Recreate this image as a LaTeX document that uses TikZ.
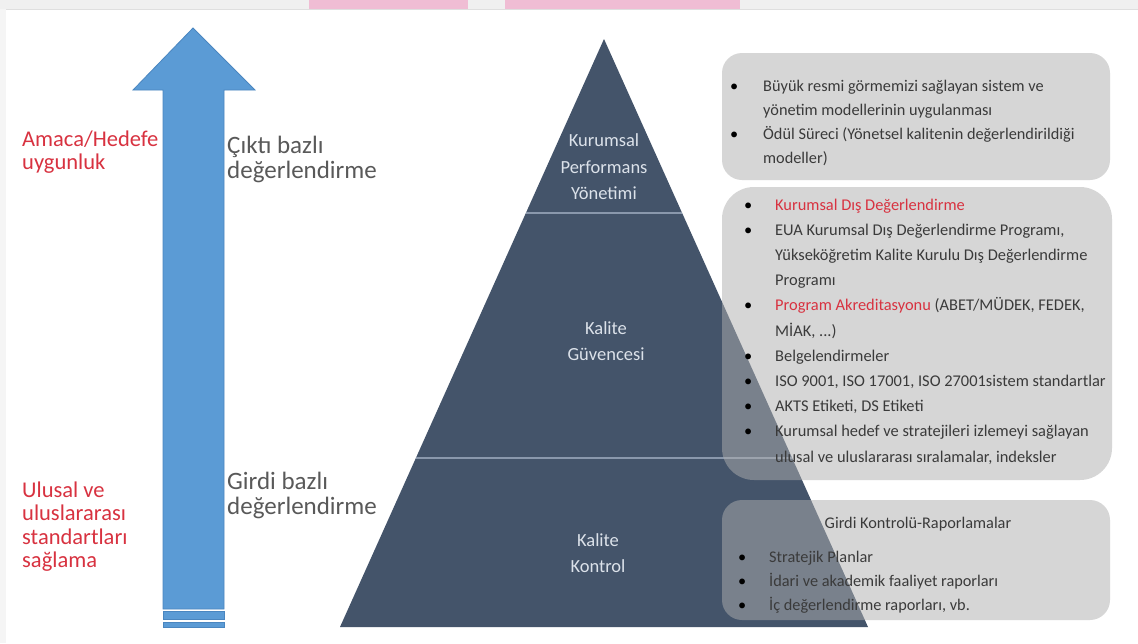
\documentclass[tikz,border=0pt]{standalone}
\usepackage{fontspec}
\setmainfont{Carlito}
\usepackage{array}
\definecolor{pyrcol}{HTML}{44546A}
\definecolor{pyrline}{HTML}{8A98AC}
\definecolor{arrowcol}{HTML}{5B9BD5}
\definecolor{arrowedge}{HTML}{4A86C0}
\definecolor{redtxt}{HTML}{D83240}
\definecolor{graytxt}{HTML}{595959}
\definecolor{boxtxt}{HTML}{3A3A3A}
\definecolor{labtxt}{HTML}{DCE2EA}
\definecolor{boxfill}{HTML}{AFAFAF}
\definecolor{pinkband}{HTML}{F0BDD4}
\tikzset{
  sidered/.style={anchor=base west, inner sep=0pt, text=redtxt, font=\fontsize{22.5}{23.5}\selectfont},
  sidegray/.style={anchor=base west, inner sep=0pt, text=graytxt, font=\fontsize{25}{25}\selectfont},
  pyrlabel/.style={anchor=center, inner sep=0pt, align=center, text=labtxt, font=\fontsize{18.5}{26.5}\selectfont},
  infobox/.style={fill=boxfill, fill opacity=0.5, draw=none},
  boxtext/.style={anchor=base west, inner sep=0pt, text=boxtxt, text opacity=1},
  divider/.style={draw=pyrline, line width=2.5pt},
}
\newcommand{\bul}{\textcolor{black}{•}}
\begin{document}
\begin{tikzpicture}[x=1pt,y=-1pt]
\path[use as bounding box] (0,0) rectangle (1138,643);
\fill[white] (0,0) rectangle (1138,643);
% screenshot frame
\fill[gray!12] (0,0) rectangle (1138,9);
\fill[pinkband] (309,0) rectangle (468,9);
\fill[pinkband] (505,0) rectangle (740,9);
\draw[gray!25, line width=1pt] (0,9.5) -- (1138,9.5);
\fill[gray!8] (0,9) rectangle (6,643);

% big arrow
\filldraw[fill=arrowcol, draw=arrowedge, line width=0.8pt]
  (163,609) -- (163,90) -- (133,90) -- (193,28) -- (255,90) -- (224,90) -- (224,609) -- cycle;
\filldraw[fill=arrowcol, draw=arrowedge, line width=0.6pt] (163,611.5) rectangle (224,619);
\filldraw[fill=arrowcol, draw=arrowedge, line width=0.6pt] (163,622) rectangle (224,627);

% left texts
\node[sidered] (amaca) at (22,146) {\begin{tabular}[t]{@{}l@{}}Amaca/Hedefe\\uygunluk\end{tabular}};
\node[sidered] (ulusal) at (22,497) {\begin{tabular}[t]{@{}l@{}}Ulusal ve\\uluslararası\\standartları\\sağlama\end{tabular}};
\node[sidegray] (cikti) at (227,153) {\begin{tabular}[t]{@{}l@{}}Çıktı bazlı\\değerlendirme\end{tabular}};
\node[sidegray] (girdi) at (227,489) {\begin{tabular}[t]{@{}l@{}}Girdi bazlı\\değerlendirme\end{tabular}};

% pyramid
\fill[pyrcol] (340,627) -- (604,39) -- (868,627) -- cycle;
\draw[divider] (526,213) -- (682,213);
\draw[divider] (416,458) -- (792,458);
\node[pyrlabel] (kpy) at (604,167) {Kurumsal\\Performans\\Yönetimi};
\node[pyrlabel] (kg) at (606,341) {Kalite\\Güvencesi};
\node[pyrlabel] (kk) at (598,553) {Kalite\\Kontrol};

% boxes
\fill[infobox, rounded corners=20pt] (722,53) rectangle (1110,180);
\fill[infobox, rounded corners=32pt] (722,187) rectangle (1112,480);
\fill[infobox, rounded corners=20pt] (722,500) rectangle (1110,620);

% box 1 text
\node[boxtext, font=\fontsize{16.3}{24}\selectfont] (b1) at (730,91) {%
\begin{tabular}[t]{@{}p{33pt}@{}l@{}}
\bul & Büyük resmi görmemizi sağlayan sistem ve\\
 & yönetim modellerinin uygulanması\\
\bul & Ödül Süreci (Yönetsel kalitenin değerlendirildiği\\
 & modeller)
\end{tabular}};

% box 2 text
\node[boxtext, font=\fontsize{16.4}{25.2}\selectfont] (b2) at (744,210) {%
\begin{tabular}[t]{@{}p{31pt}@{}l@{}}
\bul & \textcolor{redtxt}{Kurumsal Dış Değerlendirme}\\
\bul & EUA Kurumsal Dış Değerlendirme Programı,\\
 & Yükseköğretim Kalite Kurulu Dış Değerlendirme\\
 & Programı\\
\bul & \textcolor{redtxt}{Program Akreditasyonu} (ABET/MÜDEK, FEDEK,\\
 & MİAK, ...)\\
\bul & Belgelendirmeler\\
\bul & ISO 9001, ISO 17001, ISO 27001sistem standartlar\\
\bul & AKTS Etiketi, DS Etiketi\\
\bul & Kurumsal hedef ve stratejileri izlemeyi sağlayan\\
 & ulusal ve uluslararası sıralamalar, indeksler
\end{tabular}};

% box 3 text
\node[anchor=center, inner sep=0pt, text=boxtxt, font=\fontsize{16.3}{24}\selectfont] (b3t) at (918,524) {Girdi Kontrolü-Raporlamalar};
\node[boxtext, font=\fontsize{16.3}{24}\selectfont] (b3) at (738,562) {%
\begin{tabular}[t]{@{}p{31pt}@{}l@{}}
\bul & Stratejik Planlar\\
\bul & İdari ve akademik faaliyet raporları\\
\bul & İç değerlendirme raporları, vb.
\end{tabular}};
\end{tikzpicture}
\end{document}
